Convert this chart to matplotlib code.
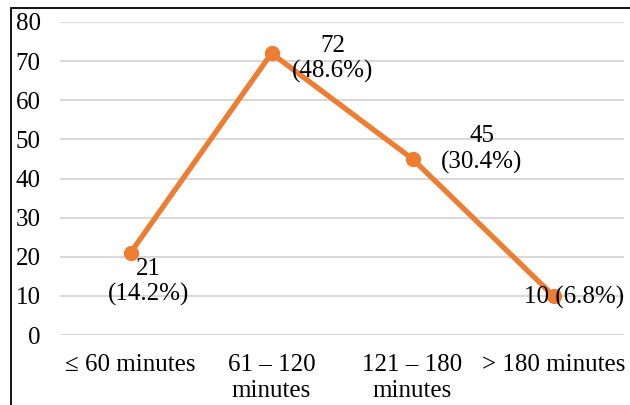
import matplotlib.pyplot as plt
from matplotlib.patches import Rectangle

# datos
categorias = ['≤ 60 minutes', '61 – 120\nminutes', '121 – 180\nminutes', '> 180 minutes']
valores = [21, 72, 45, 10]
etiquetas = ['21\n(14.2%)', '72\n(48.6%)', '45\n(30.4%)', '10 (6.8%)']
offsets = [(13, -21), (44, -4), (50, 7), (15, -1)]  # puntos

plt.rcParams['font.family'] = ['Liberation Serif', 'DejaVu Serif']
plt.rcParams['font.size'] = 18

fig = plt.figure(figsize=(6.3, 4.05), dpi=100)
ax = fig.add_axes([60 / 630, 70 / 405, 564 / 630, 313 / 405])

x = range(len(valores))
ax.plot(x, valores, color='#ED7D31', linewidth=3.8, marker='o', markersize=10, zorder=3)

for i, (v, t) in enumerate(zip(valores, etiquetas)):
    ax.annotate(t, (i, v), xytext=offsets[i], textcoords='offset points',
                ha='center', va='center', linespacing=1.2, color='#000000')

ax.set_xlim(-0.5, 3.5)
ax.set_ylim(0, 80)
ax.set_yticks(range(0, 81, 10))
ax.set_xticks(list(x))
ax.set_xticklabels(categorias, linespacing=1.2)
ax.grid(True, axis='y', color='#D9D9D9', linewidth=1.5)
ax.set_axisbelow(True)
ax.tick_params(axis='both', length=0)
ax.tick_params(axis='y', pad=14)
ax.tick_params(axis='x', pad=14)
for s in ax.spines.values():
    s.set_visible(False)

# marco del grafico
fig.patches.append(Rectangle((11 / 630, -0.5), 2, (405 - 8) / 405 + 0.5,
                             transform=fig.transFigure, fill=False,
                             edgecolor='black', linewidth=1.3))

fig.savefig('out.png', dpi=100)
